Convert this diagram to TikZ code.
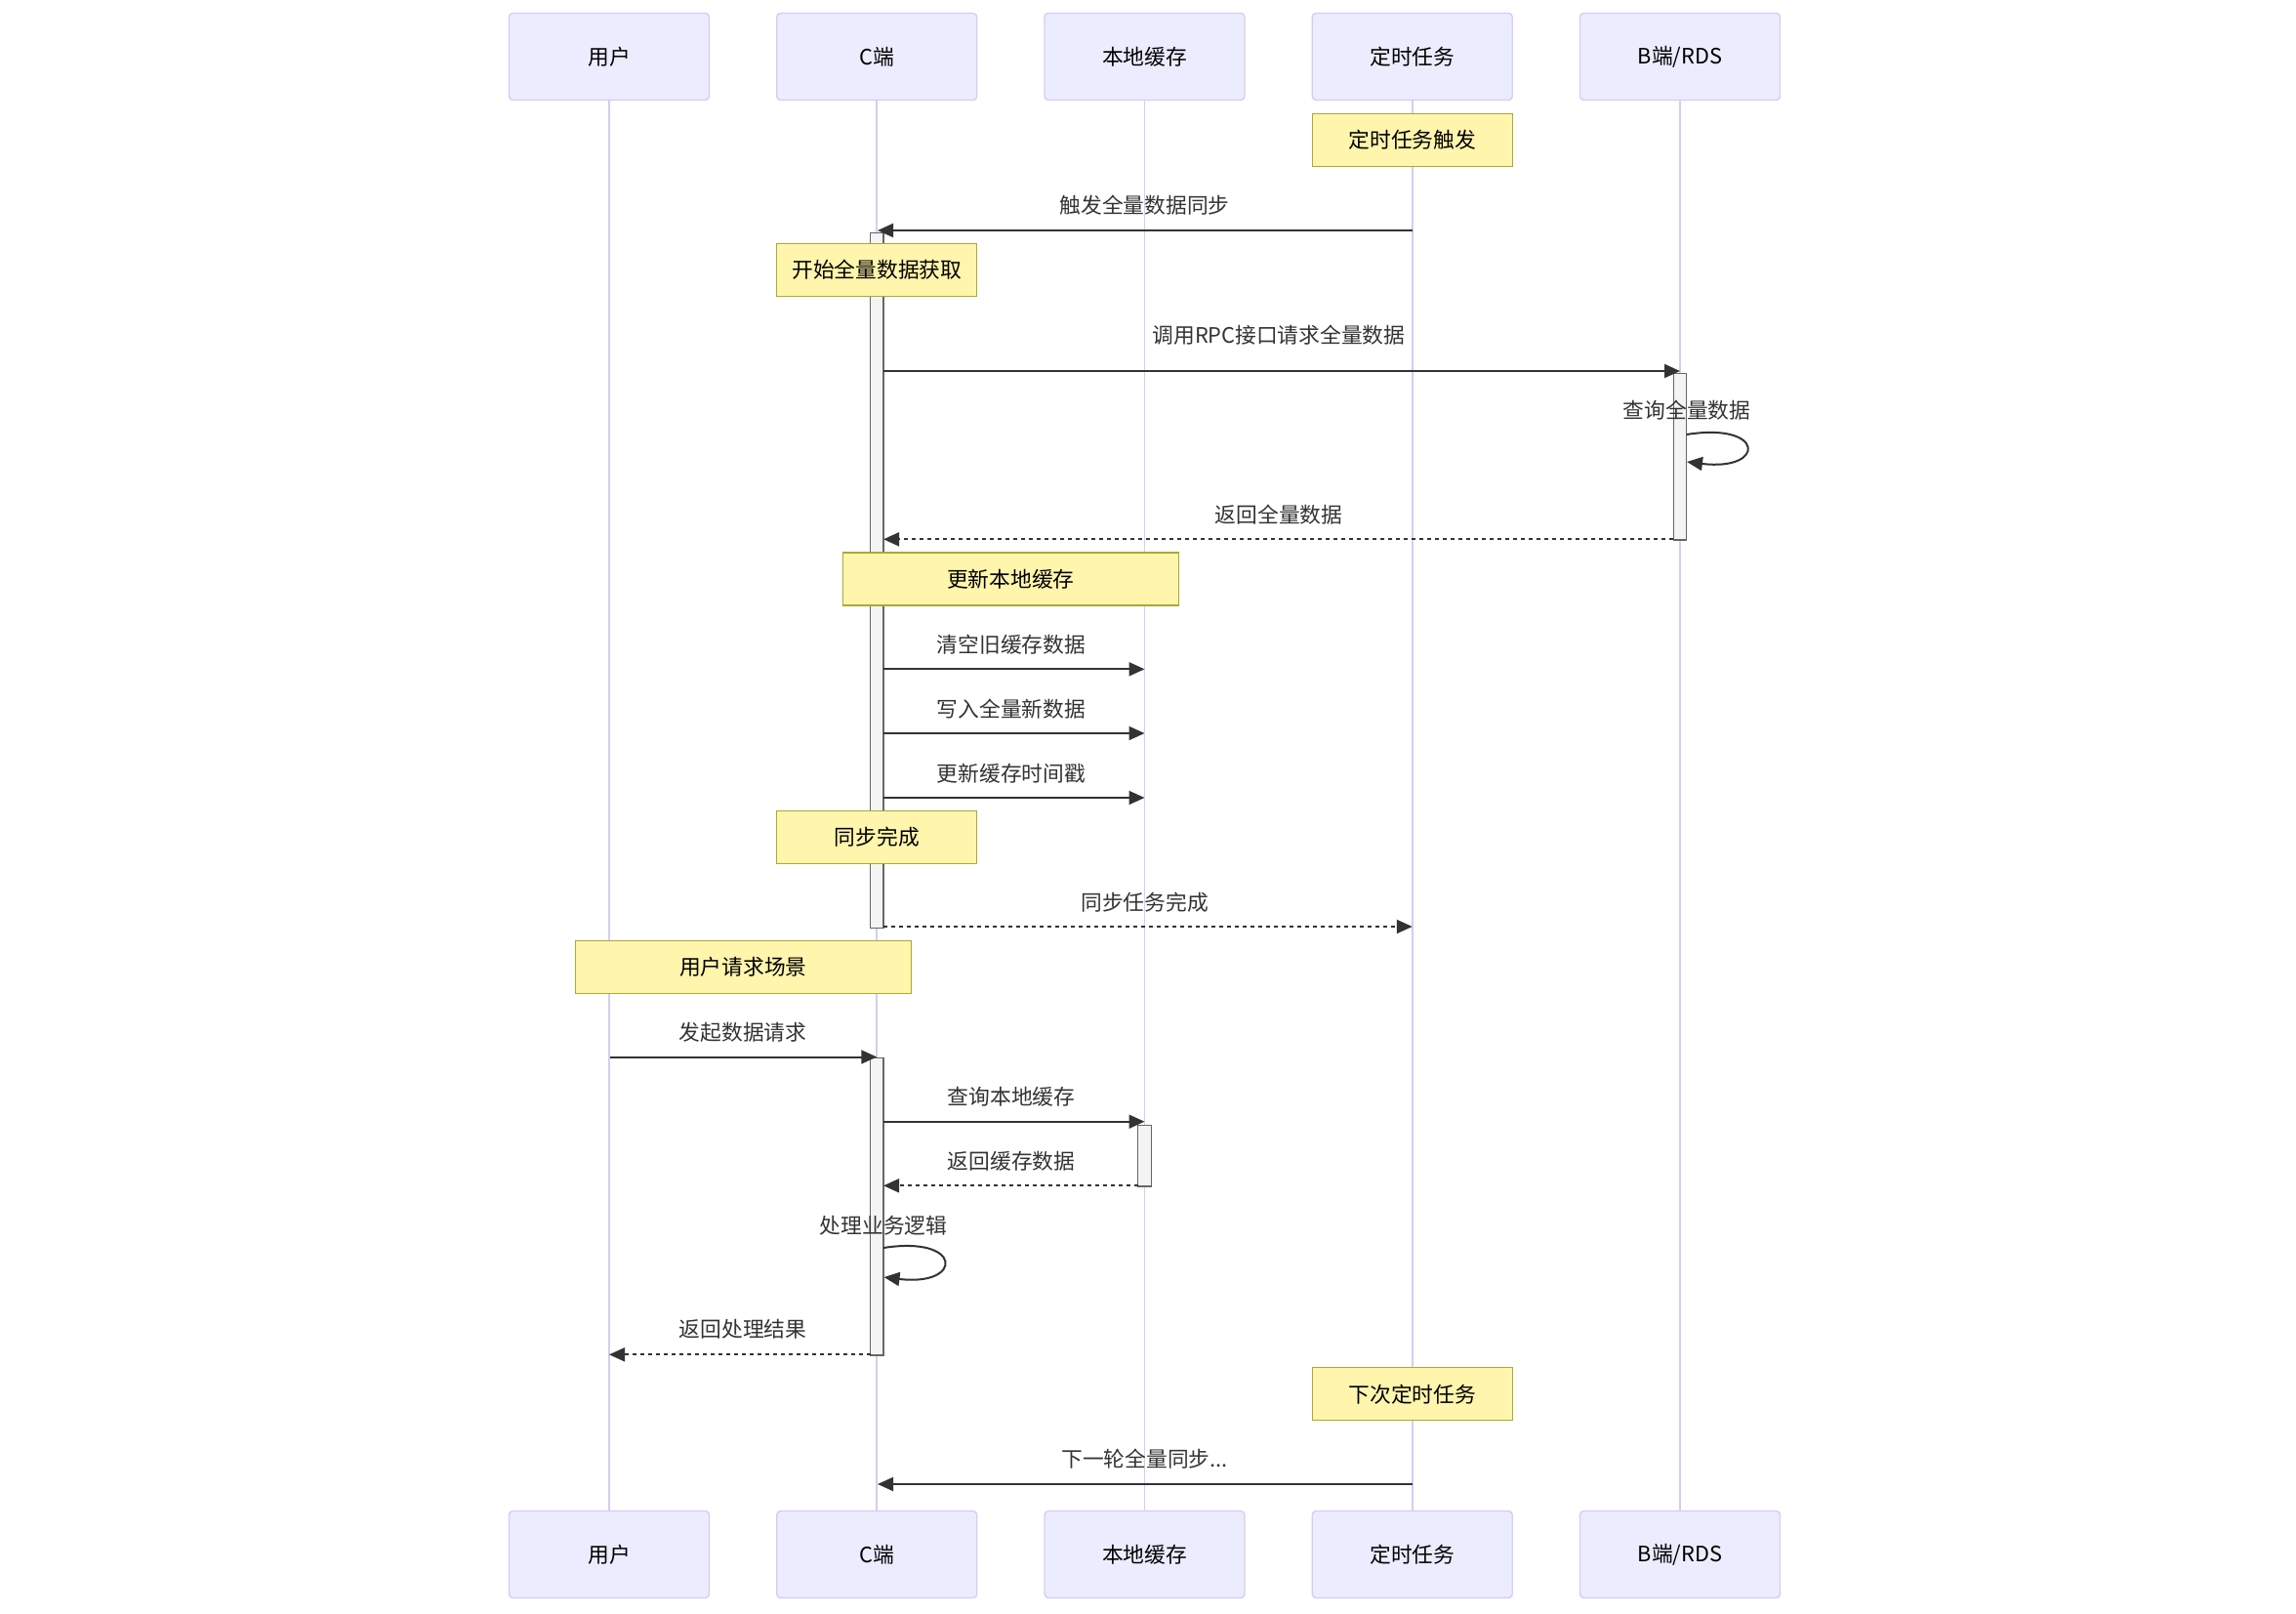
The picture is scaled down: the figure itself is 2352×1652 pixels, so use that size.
\documentclass[tikz,border=0pt]{standalone}
\usepackage{fontspec}
\setmainfont{Noto Sans CJK SC}
\usetikzlibrary{arrows.meta}
\definecolor{actorfill}{HTML}{ECECFF}
\definecolor{actorline}{HTML}{D6CCF2}
\definecolor{notefill}{HTML}{FFF5AD}
\definecolor{noteline}{HTML}{AAAA33}
\definecolor{actfill}{HTML}{F4F4F4}
\definecolor{actline}{HTML}{666666}
\definecolor{msgcol}{HTML}{333333}
\newcommand{\dfont}{\fontsize{21.75pt}{26pt}\selectfont}
\tikzset{
  actorbox/.style={draw=actorline, fill=actorfill, line width=1.4pt, rounded corners=4pt,
    minimum width=205pt, minimum height=89pt, inner sep=0pt, font=\dfont, text=black},
  lifeline/.style={draw=actorline, line width=1.8pt},
  notebox/.style={draw=noteline, fill=notefill, line width=1.4pt, minimum height=54pt,
    inner sep=0pt, font=\dfont, text=black},
  actbar/.style={draw=actline, fill=actfill, line width=1.4pt, minimum width=13.5pt,
    inner sep=0pt, anchor=north},
  msgsolid/.style={draw=msgcol, line width=2pt, -{Triangle[length=16pt,width=14pt]}},
  msgdot/.style={msgsolid, dash pattern=on 4pt off 4pt},
  msglabel/.style={font=\dfont, text=msgcol, inner sep=0pt},
}
\begin{document}
\begin{tikzpicture}[x=1pt,y=-1pt]
\fill[white] (0,0) rectangle (2352,1652);
\useasboundingbox (0,0) rectangle (2352,1652);

% actors top
\node[actorbox] (u1) at (624,58) {用户};
\node[actorbox] (c1) at (898.25,58) {C端};
\node[actorbox] (l1) at (1172.5,58) {本地缓存};
\node[actorbox] (t1) at (1446.75,58) {定时任务};
\node[actorbox] (b1) at (1721,58) {B端/RDS};
% actors bottom
\node[actorbox] (u2) at (624,1592) {用户};
\node[actorbox] (c2) at (898.25,1592) {C端};
\node[actorbox] (l2) at (1172.5,1592) {本地缓存};
\node[actorbox] (t2) at (1446.75,1592) {定时任务};
\node[actorbox] (b2) at (1721,1592) {B端/RDS};
% lifelines
\draw[lifeline] (u1.south) -- (u2.north);
\draw[lifeline] (c1.south) -- (c2.north);
\draw[lifeline] (l1.south) -- (l2.north);
\draw[lifeline] (t1.south) -- (t2.north);
\draw[lifeline] (b1.south) -- (b2.north);

% activation bars
\node[actbar, minimum height=712pt] (actC1) at (898.25,238) {};
\node[actbar, minimum height=170.3pt] (actB) at (1721,382) {};
\node[actbar, minimum height=304.6pt] (actC2) at (898.25,1082.7) {};
\node[actbar, minimum height=62.6pt] (actL) at (1172.5,1151.7) {};

% notes
\node[notebox, minimum width=205pt] (n1) at (1446.75,143.2) {定时任务触发};
\node[notebox, minimum width=205pt] (n2) at (898.25,276.3) {开始全量数据获取};
\node[notebox, minimum width=344pt] (n3) at (1035.3,592.9) {更新本地缓存};
\node[notebox, minimum width=205pt] (n4) at (898.25,857.3) {同步完成};
\node[notebox, minimum width=344pt] (n5) at (761.3,990.3) {用户请求场景};
\node[notebox, minimum width=205pt] (n6) at (1446.75,1427.7) {下次定时任务};

% message end points
\coordinate (m1s) at (1446.75,236);   \coordinate (m1e) at (899,236);
\coordinate (m2s) at (905,380);       \coordinate (m2e) at (1721,380);
\coordinate (m3s) at (1727.75,445);   \coordinate (m3e) at (1728,473);
\coordinate (m4s) at (1714.25,552.3); \coordinate (m4e) at (905,552.3);
\coordinate (m5s) at (905,685.3);     \coordinate (m5e) at (1172.5,685.3);
\coordinate (m6s) at (905,751);       \coordinate (m6e) at (1172.5,751);
\coordinate (m7s) at (905,817);       \coordinate (m7e) at (1172.5,817);
\coordinate (m8s) at (905,949);       \coordinate (m8e) at (1446.75,949);
\coordinate (m9s) at (625,1082.5);    \coordinate (m9e) at (898.25,1082.5);
\coordinate (m10s) at (905,1148.7);   \coordinate (m10e) at (1172.5,1148.7);
\coordinate (m11s) at (1165.75,1214.3); \coordinate (m11e) at (905,1214.3);
\coordinate (m12s) at (905,1278);     \coordinate (m12e) at (905.5,1308);
\coordinate (m13s) at (891.5,1387.3); \coordinate (m13e) at (624,1387.3);
\coordinate (m14s) at (1446.75,1520); \coordinate (m14e) at (899,1520);

% messages
\draw[msgsolid] (m1s) -- (m1e);
\draw[msgsolid] (m2s) -- (m2e);
\draw[msgsolid] (m3s) .. controls (1809,432) and (1809,483) .. (m3e);
\draw[msgdot] (m4s) -- (m4e);
\draw[msgsolid] (m5s) -- (m5e);
\draw[msgsolid] (m6s) -- (m6e);
\draw[msgsolid] (m7s) -- (m7e);
\draw[msgdot] (m8s) -- (m8e);
\draw[msgsolid] (m9s) -- (m9e);
\draw[msgsolid] (m10s) -- (m10e);
\draw[msgdot] (m11s) -- (m11e);
\draw[msgsolid] (m12s) .. controls (987,1265) and (987,1318) .. (m12e);
\draw[msgdot] (m13s) -- (m13e);
\draw[msgsolid] (m14s) -- (m14e);

% labels
\node[msglabel] (t1l) at (1172.5,210) {触发全量数据同步};
\node[msglabel] (t2l) at (1310,343) {调用RPC接口请求全量数据};
\node[msglabel] (t3l) at (1728,420) {查询全量数据};
\node[msglabel] (t4l) at (1310,526.7) {返回全量数据};
\node[msglabel] (t5l) at (1036,660) {清空旧缓存数据};
\node[msglabel] (t6l) at (1036,726.5) {写入全量新数据};
\node[msglabel] (t7l) at (1036,792.3) {更新缓存时间戳};
\node[msglabel] (t8l) at (1172.5,924) {同步任务完成};
\node[msglabel] (t9l) at (761,1057.7) {发起数据请求};
\node[msglabel] (t10l) at (1036,1123) {查询本地缓存};
\node[msglabel] (t11l) at (1036,1189) {返回缓存数据};
\node[msglabel] (t12l) at (905,1255) {处理业务逻辑};
\node[msglabel] (t13l) at (761,1361.7) {返回处理结果};
\node[msglabel] (t14l) at (1172.5,1494) {下一轮全量同步...};
\end{tikzpicture}
\end{document}
